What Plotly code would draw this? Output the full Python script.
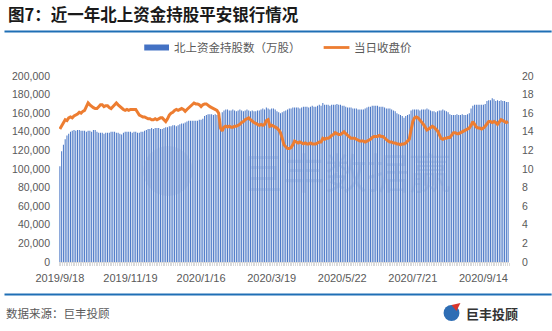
import plotly.graph_objects as go

title_text = "图7：近一年北上资金持股平安银行情况"
bar_name = "北上资金持股数（万股）"
line_name = "当日收盘价"
source_text = "数据来源：巨丰投顾"
brand_text = "巨丰投顾"
watermark_text = "巨丰数据赢"

tick_pos = [0, 40, 80, 120, 160, 200, 240]
tick_labels = ["2019/9/18", "2019/11/19", "2020/1/16", "2020/3/19", "2020/5/22", "2020/7/21", "2020/9/14"]

holdings = [
    103000, 119000, 126000, 132000, 136000, 138000, 140000, 141000, 142000, 141000,
    142000, 142000, 141000, 141000, 141000, 140000, 141000, 141000, 140000, 142000,
    142000, 140000, 139000, 139000, 139000, 138000, 139000, 139000, 139000, 140000,
    140000, 140000, 139000, 139000, 138000, 137000, 139000, 140000, 140000, 140000,
    140000, 139000, 140000, 140000, 139000, 139000, 140000, 140000, 141000, 142000,
    143000, 143000, 144000, 143000, 144000, 144000, 144000, 143000, 143000, 144000,
    145000, 145000, 146000, 146000, 147000, 147000, 146000, 147000, 148000, 149000,
    149000, 150000, 151000, 152000, 152000, 152000, 152000, 152000, 152000, 153000,
    153000, 154000, 157000, 158000, 159000, 159000, 159000, 158000, 159000, 158000,
    157000, 154000, 161000, 163000, 164000, 164000, 163000, 163000, 164000, 163000,
    162000, 163000, 164000, 163000, 162000, 163000, 164000, 163000, 162000, 163000,
    162000, 162000, 163000, 163000, 164000, 165000, 164000, 166000, 165000, 164000,
    165000, 165000, 164000, 162000, 161000, 160000, 161000, 162000, 163000, 164000,
    165000, 165000, 166000, 166000, 166000, 166000, 165000, 166000, 167000, 167000,
    167000, 166000, 167000, 168000, 167000, 167000, 168000, 169000, 168000, 171000,
    169000, 169000, 169000, 168000, 169000, 169000, 169000, 170000, 169000, 169000,
    168000, 168000, 167000, 166000, 166000, 166000, 165000, 165000, 165000, 164000,
    164000, 164000, 164000, 165000, 166000, 167000, 167000, 168000, 168000, 168000,
    168000, 167000, 167000, 167000, 166000, 165000, 165000, 165000, 164000, 163000,
    162000, 160000, 159000, 158000, 157000, 155000, 157000, 158000, 159000, 163000,
    164000, 164000, 164000, 164000, 163000, 164000, 164000, 164000, 165000, 164000,
    163000, 162000, 162000, 161000, 162000, 163000, 163000, 164000, 163000, 162000,
    161000, 159000, 158000, 158000, 158000, 159000, 158000, 158000, 159000, 158000,
    158000, 159000, 160000, 165000, 168000, 169000, 169000, 169000, 169000, 169000,
    169000, 170000, 173000, 174000, 174000, 176000, 175000, 173000, 174000, 173000,
    174000, 173000, 173000, 172000, 172000,
]

close_price = [
    14.3, 14.6, 15.0, 15.3, 15.2, 15.5, 15.6, 15.5, 15.7, 15.8,
    15.9, 16.1, 16.0, 16.2, 16.3, 16.7, 17.1, 16.9, 16.7, 16.6,
    16.5, 16.5, 16.7, 16.9, 16.9, 16.7, 16.8, 16.8, 16.6, 16.5,
    16.7, 16.9, 17.1, 16.9, 16.7, 16.6, 16.4, 16.3, 16.4, 16.3,
    16.4, 16.4, 16.4, 16.4, 16.1, 15.8, 15.7, 15.6, 15.6, 15.5,
    15.4, 15.4, 15.3, 15.3, 15.4, 15.3, 15.4, 15.5, 15.5, 15.3,
    15.1, 15.4, 15.8, 16.0, 16.1, 16.3, 16.4, 16.3, 16.4, 16.5,
    16.4, 16.2, 16.4, 16.6, 16.8, 17.0, 17.1, 17.0, 17.0, 16.9,
    16.7, 16.9, 17.0, 17.0, 16.8, 16.7, 16.6, 16.5, 16.4, 16.3,
    16.0, 14.4, 14.1, 14.5, 14.6, 14.5, 14.6, 14.5, 14.5, 14.6,
    14.6, 14.7, 14.8, 15.0, 15.1, 15.3, 15.4, 15.5, 15.3, 15.1,
    15.0, 14.9, 14.8, 14.7, 14.8, 14.7, 14.8, 15.2, 15.3, 14.6,
    14.7, 14.6, 14.5, 14.4, 14.2, 13.9, 13.3, 12.6, 12.4, 12.2,
    12.2, 12.3, 12.6, 13.0, 12.9, 12.8, 12.9, 12.8, 12.7, 12.8,
    12.7, 12.7, 12.8, 12.7, 12.7, 12.7, 12.8, 12.9, 12.9, 13.3,
    13.2, 13.3, 13.3, 13.4, 13.6, 13.7, 13.9, 13.8, 13.7, 13.7,
    13.9, 14.0, 13.8, 13.6, 13.4, 13.3, 13.3, 13.3, 13.2, 13.1,
    13.0, 13.0, 13.0, 12.9, 13.0, 13.1, 13.2, 13.4, 13.5, 13.5,
    13.5, 13.6, 13.5, 13.5, 13.3, 13.1, 13.0, 12.9, 12.9, 12.8,
    12.8, 12.7, 12.7, 12.6, 12.7, 12.7, 12.8, 13.0, 13.2, 14.2,
    15.1, 15.5, 15.6, 15.5, 15.3, 15.0, 14.8, 14.5, 14.2, 14.3,
    14.5, 14.6, 14.5, 14.3, 14.1, 13.7, 13.3, 13.2, 13.3, 13.3,
    13.4, 13.4, 13.6, 13.9, 13.9, 13.8, 13.8, 13.9, 14.0, 14.1,
    14.2, 14.3, 14.4, 14.7, 15.1, 14.8, 14.5, 14.4, 14.4, 14.3,
    14.4, 14.6, 14.9, 15.1, 15.1, 15.0, 15.1, 15.0, 14.8, 15.0,
    15.3, 15.2, 15.1, 15.0, 15.1,
]

idx = list(range(len(holdings)))

TXT = "#595959"
CJK = "Noto Sans CJK SC"
NUM = "Liberation Sans"

W, H = 552, 331
ml, mr, mt, mb = 55, 43, 76, 69
PW, PH = W - ml - mr, H - mt - mb


def px(x):
    return (x - ml) / PW


def py(y):
    return (H - mb - y) / PH


fig = go.Figure()
fig.add_trace(go.Bar(x=idx, y=holdings, name=bar_name,
                     marker=dict(color="rgba(68,114,196,0.99)", line=dict(width=0)),
                     yaxis="y", showlegend=False))
fig.add_trace(go.Scatter(x=idx, y=close_price, name=line_name, mode="lines",
                         line=dict(color="#ED7D31", width=3), yaxis="y2", showlegend=False))

shapes = [
    dict(type="line", xref="paper", yref="paper", x0=px(0), x1=px(W), y0=py(31.5), y1=py(31.5),
         line=dict(color="#1F6FB5", width=2.2)),
    dict(type="line", xref="paper", yref="paper", x0=px(0), x1=px(W), y0=py(294.5), y1=py(294.5),
         line=dict(color="#1F6FB5", width=2.2)),
    dict(type="rect", xref="paper", yref="paper", x0=px(141), x1=px(166), y0=py(50.5), y1=py(44.5),
         fillcolor="#4472C4", line=dict(width=0)),
    dict(type="line", xref="paper", yref="paper", x0=px(322), x1=px(348), y0=py(47.5), y1=py(47.5),
         line=dict(color="#ED7D31", width=2.8)),
    dict(type="circle", xref="paper", yref="paper", x0=px(443), x1=px(459), y0=py(321), y1=py(305),
         fillcolor="#2E6DB4", line=dict(width=0)),
    dict(type="path", xref="paper", yref="paper",
         path=f"M {px(451)} {py(305)} L {px(460)} {py(303)} L {px(456)} {py(311)} Z",
         fillcolor="#D9342B", line=dict(width=0)),
    dict(type="circle", xref="paper", yref="paper", x0=px(140), x1=px(190), y0=py(196), y1=py(146),
         fillcolor="rgba(120,150,210,0.2)", line=dict(width=0), layer="above"),
]

annotations = [
    dict(text=f"<b>{title_text}</b>", xref="paper", yref="paper", x=px(2), y=py(14), xanchor="left",
         yanchor="middle", showarrow=False, font=dict(family=CJK, size=16.5, color="#1a1a1a")),
    dict(text=bar_name, xref="paper", yref="paper", x=px(169), y=py(47.5), xanchor="left", yanchor="middle",
         showarrow=False, font=dict(family=CJK, size=11.5, color=TXT)),
    dict(text=line_name, xref="paper", yref="paper", x=px(351), y=py(47.5), xanchor="left", yanchor="middle",
         showarrow=False, font=dict(family=CJK, size=11.5, color=TXT)),
    dict(text=source_text, xref="paper", yref="paper", x=px(0), y=py(313), xanchor="left", yanchor="middle",
         showarrow=False, font=dict(family=CJK, size=11.5, color=TXT)),
    dict(text=f"<b>{brand_text}</b>", xref="paper", yref="paper", x=px(464), y=py(313), xanchor="left",
         yanchor="middle", showarrow=False, font=dict(family=CJK, size=13, color="#333333")),
    dict(text=watermark_text, xref="paper", yref="paper", x=px(345), y=py(170), xanchor="center",
         yanchor="middle", showarrow=False, font=dict(family=CJK, size=42, color="rgba(110,145,210,0.25)")),
]

fig.update_layout(
    width=W, height=H,
    margin=dict(l=ml, r=mr, t=mt, b=mb, pad=0),
    paper_bgcolor="white", plot_bgcolor="white",
    bargap=0.44,
    showlegend=False,
    shapes=shapes,
    annotations=annotations,
    xaxis=dict(
        range=[-0.5, len(idx) - 0.5],
        tickmode="array", tickvals=tick_pos, ticktext=tick_labels,
        ticks="", showgrid=False, zeroline=False,
        showline=True, linecolor="#d9d9d9", linewidth=1,
        tickfont=dict(family=NUM, size=11, color=TXT),
        ticklabelstandoff=6,
        minor=dict(dtick=1, tick0=0.5, ticks="outside", ticklen=3, tickcolor="#d9d9d9", showgrid=False),
    ),
    yaxis=dict(
        range=[0, 200000], dtick=20000, tickformat=",d",
        showgrid=False, zeroline=False, showline=False, ticks="",
        tickfont=dict(family=NUM, size=10.5, color=TXT),
        ticklabelstandoff=8,
    ),
    yaxis2=dict(
        range=[0, 20], dtick=2, overlaying="y", side="right",
        showgrid=False, zeroline=False, showline=False, ticks="",
        tickfont=dict(family=NUM, size=10.5, color=TXT),
        ticklabelstandoff=12,
    ),
)

fig.write_html("out.html")
